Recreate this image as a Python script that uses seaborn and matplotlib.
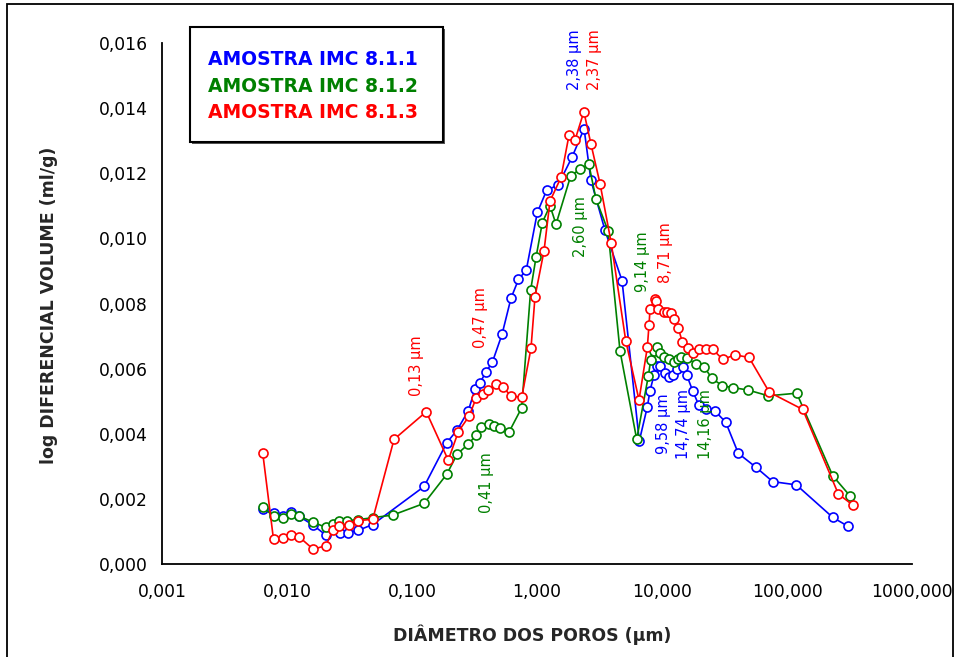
import numpy as np
import pandas as pd
import seaborn as sns
import matplotlib.pyplot as plt
from matplotlib.patches import Rectangle
from matplotlib.ticker import FuncFormatter, NullLocator, FixedLocator

# --- data (diameter in um, log differential volume in ml/g)
blue_x = [0.0064, 0.0078, 0.0093, 0.0108, 0.0125, 0.0162, 0.0205, 0.0266, 0.0305, 0.0372,
          0.0485, 0.125, 0.19, 0.23, 0.282, 0.319, 0.35, 0.391, 0.439, 0.525,
          0.619, 0.711, 0.821, 1.006, 1.196, 1.472, 1.905, 2.38, 2.70, 3.50,
          4.79, 6.58, 7.63, 8.02, 8.63, 9.07, 9.58, 10.63, 11.44, 12.31,
          13.26, 14.74, 15.76, 17.6, 19.66, 22.49, 26.55, 32.33, 40.77, 56.49,
          76.82, 118.7, 232.1, 305.9]
blue_y = [0.00168, 0.00154, 0.00146, 0.00158, 0.00145, 0.00118, 0.00087, 0.00095, 0.00095, 0.00102,
          0.0012, 0.00237, 0.00372, 0.00411, 0.0047, 0.00536, 0.00556, 0.0059, 0.00619, 0.00705,
          0.00816, 0.00874, 0.00903, 0.0108, 0.01149, 0.01164, 0.0125, 0.01338, 0.01179, 0.01025,
          0.0087, 0.00377, 0.00482, 0.00532, 0.0058, 0.00609, 0.00609, 0.00587, 0.00573, 0.0058,
          0.00598, 0.00606, 0.0058, 0.00531, 0.00488, 0.00474, 0.00469, 0.00435, 0.00339, 0.00296,
          0.00252, 0.00242, 0.00142, 0.00115]

green_x = [0.0064, 0.0078, 0.0093, 0.0108, 0.0125, 0.0162, 0.0205, 0.0232, 0.0262, 0.0300,
           0.0372, 0.0485, 0.0701, 0.125, 0.19, 0.23, 0.282, 0.325, 0.3545, 0.41,
           0.453, 0.506, 0.600, 0.754, 0.890, 0.982, 1.103, 1.27, 1.419, 1.861,
           2.208, 2.60, 2.965, 3.698, 4.613, 6.275, 7.772, 8.12, 8.63, 9.14,
           9.64, 10.38, 11.31, 12.47, 13.5, 14.16, 15.76, 18.61, 21.68, 25.0,
           30.37, 37.18, 48.5, 70.87, 119.6, 232.1, 319.2]
green_y = [0.00173, 0.00146, 0.00141, 0.00151, 0.00146, 0.00127, 0.00111, 0.00122, 0.00132, 0.00132,
           0.00135, 0.00141, 0.00149, 0.00185, 0.00275, 0.00337, 0.00367, 0.00395, 0.00419, 0.00429,
           0.00424, 0.00416, 0.00406, 0.00479, 0.00842, 0.00942, 0.01049, 0.01101, 0.01044, 0.01193,
           0.01213, 0.01228, 0.01121, 0.01024, 0.00654, 0.00382, 0.00577, 0.00626, 0.00655, 0.00667,
           0.00649, 0.00636, 0.00628, 0.00621, 0.00628, 0.00634, 0.00633, 0.00614, 0.00606, 0.0057,
           0.00547, 0.00541, 0.00534, 0.00516, 0.00524, 0.0027, 0.00208]

red_x = [0.0064, 0.0078, 0.0093, 0.0108, 0.0125, 0.0162, 0.0205, 0.0232, 0.0262, 0.0312,
         0.0372, 0.0485, 0.0718, 0.13, 0.195, 0.235, 0.287, 0.325, 0.368, 0.408,
         0.47, 0.532, 0.616, 0.754, 0.895, 0.964, 1.138, 1.27, 1.556, 1.803,
         2.014, 2.37, 2.704, 3.192, 3.93, 5.124, 6.546, 7.63, 7.87, 8.02,
         8.71, 8.905, 9.34, 10.38, 11.03, 11.74, 12.47, 13.5, 14.53, 16.06,
         17.6, 19.77, 22.37, 25.44, 30.59, 38.37, 49.66, 72.2, 133.6, 257.3,
         335.5]
red_y = [0.00339, 0.00074, 0.00078, 0.00087, 0.00082, 0.00044, 0.00055, 0.00103, 0.00115, 0.00118,
         0.00132, 0.00136, 0.00382, 0.00467, 0.00318, 0.00406, 0.00454, 0.00508, 0.00522, 0.00534,
         0.00551, 0.00544, 0.00516, 0.00511, 0.00662, 0.00821, 0.00962, 0.01115, 0.01188, 0.01318,
         0.01303, 0.0139, 0.0129, 0.01169, 0.00985, 0.00686, 0.00503, 0.00665, 0.00734, 0.00782,
         0.00813, 0.00808, 0.00782, 0.00775, 0.00773, 0.0077, 0.00752, 0.00724, 0.00682, 0.00664,
         0.00649, 0.00659, 0.00659, 0.00659, 0.00628, 0.00642, 0.00634, 0.00527, 0.00474, 0.00214,
         0.0018]

series_names = ["AMOSTRA IMC 8.1.1", "AMOSTRA IMC 8.1.2", "AMOSTRA IMC 8.1.3"]
series_colors = ["#0000ff", "#008000", "#ff0000"]

x_ticks = [0.001, 0.01, 0.1, 1, 10, 100, 1000]
y_ticks = [0.000, 0.002, 0.004, 0.006, 0.008, 0.010, 0.012, 0.014, 0.016]

# peak labels: (text, colour index, x, y)
peak_labels = [
    ("2,38 µm", 0, 2.01, 0.01549),
    ("2,37 µm", 2, 2.91, 0.01549),
    ("0,13 µm", 2, 0.108, 0.00608),
    ("0,47 µm", 2, 0.35, 0.00758),
    ("0,41 µm", 1, 0.391, 0.00248),
    ("2,60 µm", 1, 2.21, 0.01038),
    ("9,14 µm", 1, 7.01, 0.00928),
    ("8,71 µm", 2, 10.76, 0.00958),
    ("9,58 µm", 0, 10.24, 0.00429),
    ("14,74 µm", 0, 14.8, 0.00429),
    ("14,16 µm", 1, 22.1, 0.00429),
]

sns.set_style("white")
plt.rcParams["font.family"] = ["DejaVu Sans"]

fig = plt.figure(figsize=(9.58, 6.57), dpi=100)
ax = fig.add_axes([0.1691, 0.1423, 0.7829, 0.7915])

frames = [
    pd.DataFrame({"diam": blue_x, "vol": blue_y}),
    pd.DataFrame({"diam": green_x, "vol": green_y}),
    pd.DataFrame({"diam": red_x, "vol": red_y}),
]
for df, col in zip(frames, series_colors):
    sns.lineplot(data=df, x="diam", y="vol", ax=ax, color=col, sort=False,
                 estimator=None, linewidth=1.2, marker="o", markersize=6.5,
                 markerfacecolor="white", markeredgecolor=col, markeredgewidth=1.2)

ax.set_xscale("log")
ax.set_xlim(0.001, 1000)
ax.set_ylim(0, 0.016)
ax.xaxis.set_major_locator(FixedLocator(x_ticks))
ax.xaxis.set_minor_locator(NullLocator())
ax.set_yticks(y_ticks)
fmt = FuncFormatter(lambda v, p: f"{v:.3f}".replace(".", ","))
ax.xaxis.set_major_formatter(fmt)
ax.yaxis.set_major_formatter(fmt)
ax.tick_params(axis="both", which="major", direction="out", length=6, width=1.2,
               color="black", labelsize=12.3, labelcolor="black", pad=4)
ax.tick_params(axis="x", pad=8)

for side in ["top", "right"]:
    ax.spines[side].set_visible(False)
for side in ["left", "bottom"]:
    ax.spines[side].set_color("black")
    ax.spines[side].set_linewidth(1.3)

ax.set_xlabel("DIÂMETRO DOS POROS (µm)", fontsize=12.5, fontweight="bold")
ax.set_ylabel("log DIFERENCIAL VOLUME (ml/g)", fontsize=12.5, fontweight="bold")
ax.xaxis.set_label_coords(0.493, -0.118)
ax.yaxis.set_label_coords(-0.139, 0.497)

for txt, ci, xv, yv in peak_labels:
    ax.text(xv, yv, txt, rotation=90, ha="center", va="center",
            fontsize=10.5, color=series_colors[ci])

# legend box with drop shadow
fig.patches.append(Rectangle((0.2003, 0.7809), 0.2641, 0.175, transform=fig.transFigure,
                             facecolor="#555555", edgecolor="none", zorder=4))
fig.patches.append(Rectangle((0.1983, 0.7839), 0.2641, 0.175, transform=fig.transFigure,
                             facecolor="white", edgecolor="black", linewidth=1.5, zorder=5))
for i, (name, col) in enumerate(zip(series_names, series_colors)):
    fig.text(0.2171, 0.9087 - i * 0.0396, name, color=col, fontsize=13.5,
             fontweight="bold", ha="left", va="center", zorder=6)

# outer chart frame
fig.patches.append(Rectangle((0.0073, -0.02), 0.9875, 1.0139, transform=fig.transFigure,
                             facecolor="none", edgecolor="black", linewidth=1.3, zorder=3))

fig.savefig("out.png", dpi=100)
